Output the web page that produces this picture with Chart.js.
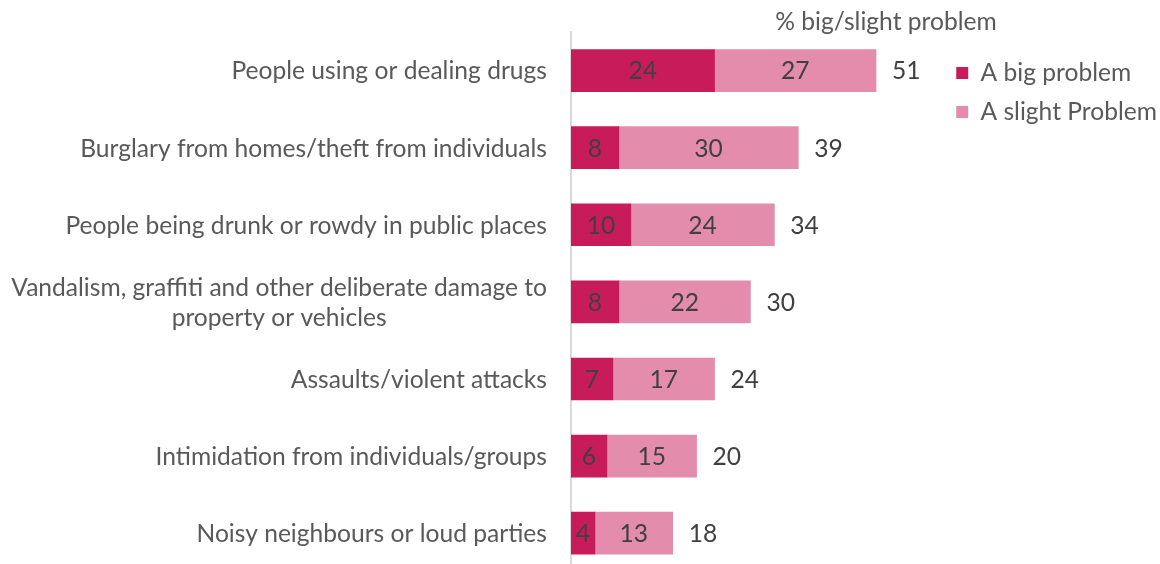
<!DOCTYPE html>
<html>
<head>
<meta charset="utf-8">
<script src="https://cdn.jsdelivr.net/npm/chart.js@4"></script>
<style>
  html, body { margin: 0; padding: 0; background: #fff; overflow: hidden; }
  #wrap { width: 1160px; height: 564px; position: relative; }
</style>
</head>
<body>
<div id="wrap"><canvas id="problemsChart"></canvas></div>
<script>
const categories = [
    'People using or dealing drugs',
    'Burglary from homes/theft from individuals',
    'People being drunk or rowdy in public places',
    ['Vandalism, graffiti and other deliberate damage to', 'property or vehicles'],
    'Assaults/violent attacks',
    'Intimidation from individuals/groups',
    'Noisy neighbours or loud parties'
];
const bigProblem = [24, 8, 10, 8, 7, 6, 4];
const slightProblem = [27, 30, 24, 22, 17, 15, 13];
const totalLabels = [51, 39, 34, 30, 24, 20, 18];
const seriesNames = ['A big problem', 'A slight Problem'];
const chartTitle = '% big/slight problem';

const DARK = '#C81B59';
const LIGHT = '#E38CAC';
const LABEL_GREY = '#595959';
const NUMBER_GREY = '#404040';
const FONT_SIZE = 24.6;

Chart.defaults.font.family = 'Lato, "Open Sans", sans-serif';
Chart.defaults.font.size = FONT_SIZE;

// rows sit on a linear index axis so the last one can run off the bottom edge like the source
const toRows = (values) => values.map((v, i) => ({ x: v, y: i }));

// category labels, values in bars, totals and the heading
const labelPlugin = {
    id: 'labelPlugin',
    afterDatasetsDraw(chart) {
        const ctx = chart.ctx;
        const area = chart.chartArea;
        const yScale = chart.scales.y;
        ctx.save();
        ctx.font = FONT_SIZE + 'px Lato';
        ctx.textBaseline = 'middle';

        // y labels: each block right aligned, lines centred inside the block
        ctx.fillStyle = LABEL_GREY;
        ctx.textAlign = 'center';
        categories.forEach((label, i) => {
            const lines = Array.isArray(label) ? label : [label];
            const y = yScale.getPixelForValue(i);
            const blockWidth = Math.max(...lines.map(l => ctx.measureText(l).width));
            const cx = area.left - 24 - blockWidth / 2;
            lines.forEach((line, j) => {
                ctx.fillText(line, cx, y + 1 + (j - (lines.length - 1) / 2) * 30);
            });
        });

        // segment values
        ctx.fillStyle = NUMBER_GREY;
        chart.data.datasets.forEach((ds, di) => {
            const meta = chart.getDatasetMeta(di);
            meta.data.forEach((bar, i) => {
                const p = bar.getProps(['x', 'y', 'base'], true);
                ctx.fillText(String(ds.data[i].x), (p.x + p.base) / 2, p.y + 1);
            });
        });

        // totals after the bars
        ctx.textAlign = 'left';
        const lastMeta = chart.getDatasetMeta(chart.data.datasets.length - 1);
        lastMeta.data.forEach((bar, i) => {
            const p = bar.getProps(['x', 'y'], true);
            ctx.fillText(String(totalLabels[i]), p.x + 16, p.y + 1);
        });

        // heading above the legend column
        ctx.fillStyle = LABEL_GREY;
        ctx.textAlign = 'center';
        ctx.fillText(chartTitle, chart.width - 274, 22);
        ctx.restore();
    }
};

const ctx = document.getElementById('problemsChart');
new Chart(ctx, {
    type: 'bar',
    data: {
        labels: categories,
        datasets: [
            {
                label: seriesNames[0],
                data: toRows(bigProblem),
                backgroundColor: DARK,
                borderWidth: 0
            },
            {
                label: seriesNames[1],
                data: toRows(slightProblem),
                backgroundColor: LIGHT,
                borderWidth: 0
            }
        ]
    },
    options: {
        indexAxis: 'y',
        responsive: true,
        maintainAspectRatio: false,
        animation: false,
        layout: {
            padding: { top: 32, bottom: 0, left: 0, right: -7 }
        },
        datasets: {
            bar: {
                barThickness: 42
            }
        },
        scales: {
            x: {
                stacked: true,
                display: false,
                min: 0,
                max: 62
            },
            y: {
                type: 'linear',
                stacked: true,
                reverse: true,
                offset: false,
                min: -0.5,
                max: 6.4,
                grid: { display: false, offset: false },
                border: { display: true, color: '#D9D9D9', width: 2 },
                ticks: { display: false },
                afterFit: (scale) => { scale.width = 571; }
            }
        },
        plugins: {
            legend: {
                position: 'right',
                align: 'start',
                title: {
                    display: true,
                    text: '',
                    padding: 0,
                    font: { size: 10, lineHeight: 1.43 }
                },
                labels: {
                    boxWidth: 12,
                    boxHeight: 12,
                    padding: 14.4,
                    color: LABEL_GREY,
                    font: { size: FONT_SIZE }
                }
            },
            tooltip: { enabled: false }
        }
    },
    plugins: [labelPlugin]
});
</script>
</body>
</html>
